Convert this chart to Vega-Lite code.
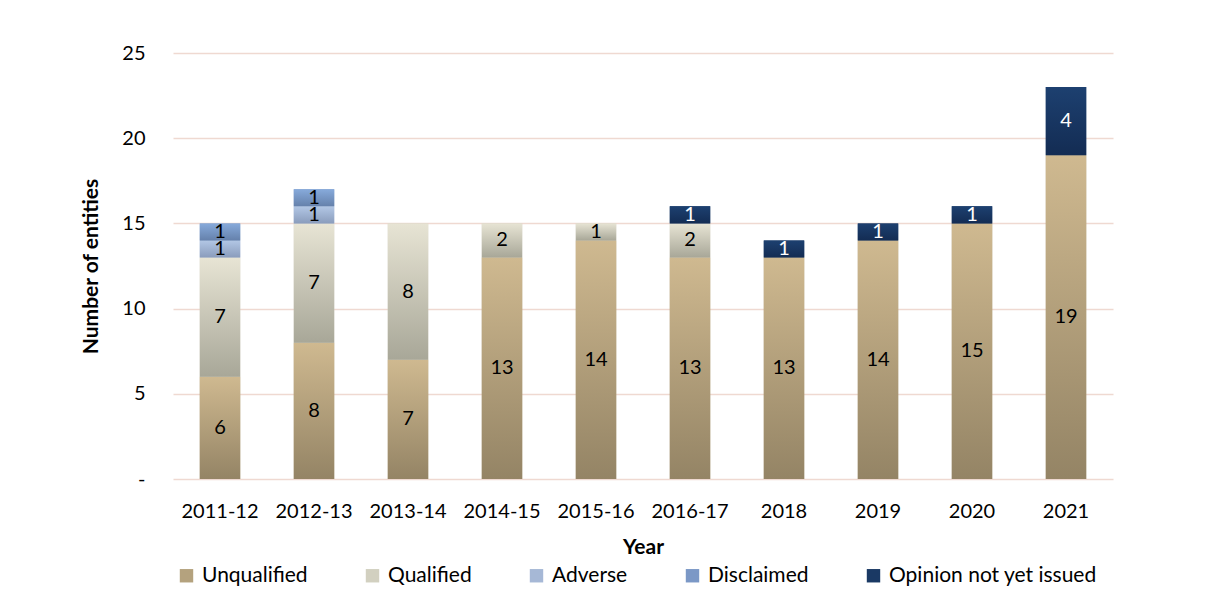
{
  "$schema": "https://vega.github.io/schema/vega-lite/v6.json",
  "autosize": "none",
  "width": 940,
  "height": 426,
  "padding": {"left": 173, "top": 53, "right": 109, "bottom": 132},
  "background": "white",
  "config": {
    "view": {"stroke": null},
    "font": "Lato",
    "axis": {"labelFont": "Lato", "titleFont": "Lato", "labelColor": "#000000", "titleColor": "#000000"}
  },
  "data": {
    "values": [
      {"year": "2011-12", "status": "Unqualified", "count": 6},
      {"year": "2011-12", "status": "Qualified", "count": 7},
      {"year": "2011-12", "status": "Adverse", "count": 1},
      {"year": "2011-12", "status": "Disclaimed", "count": 1},
      {"year": "2012-13", "status": "Unqualified", "count": 8},
      {"year": "2012-13", "status": "Qualified", "count": 7},
      {"year": "2012-13", "status": "Adverse", "count": 1},
      {"year": "2012-13", "status": "Disclaimed", "count": 1},
      {"year": "2013-14", "status": "Unqualified", "count": 7},
      {"year": "2013-14", "status": "Qualified", "count": 8},
      {"year": "2014-15", "status": "Unqualified", "count": 13},
      {"year": "2014-15", "status": "Qualified", "count": 2},
      {"year": "2015-16", "status": "Unqualified", "count": 14},
      {"year": "2015-16", "status": "Qualified", "count": 1},
      {"year": "2016-17", "status": "Unqualified", "count": 13},
      {"year": "2016-17", "status": "Qualified", "count": 2},
      {"year": "2016-17", "status": "Opinion not yet issued", "count": 1},
      {"year": "2018", "status": "Unqualified", "count": 13},
      {"year": "2018", "status": "Opinion not yet issued", "count": 1},
      {"year": "2019", "status": "Unqualified", "count": 14},
      {"year": "2019", "status": "Opinion not yet issued", "count": 1},
      {"year": "2020", "status": "Unqualified", "count": 15},
      {"year": "2020", "status": "Opinion not yet issued", "count": 1},
      {"year": "2021", "status": "Unqualified", "count": 19},
      {"year": "2021", "status": "Opinion not yet issued", "count": 4}
    ]
  },
  "transform": [
    {"calculate": "indexof(['Unqualified','Qualified','Adverse','Disclaimed','Opinion not yet issued'], datum.status)", "as": "ord"},
    {"stack": "count", "groupby": ["year"], "sort": [{"field": "ord", "order": "ascending"}], "as": ["y0", "y1"]},
    {"calculate": "(datum.y0 + datum.y1) / 2", "as": "mid"}
  ],
  "encoding": {
    "x": {
      "field": "year", "type": "nominal",
      "sort": ["2011-12","2012-13","2013-14","2014-15","2015-16","2016-17","2018","2019","2020","2021"],
      "scale": {"paddingInner": 0.57, "paddingOuter": 0.285},
      "axis": {"title": "Year", "labelAngle": 0, "labelFontSize": 20, "titleFontSize": 21, "titleFontWeight": "bold", "ticks": false, "domain": false, "labelPadding": 22, "titlePadding": 15}
    }
  },
  "layer": [
    {
      "mark": {"type": "bar"},
      "encoding": {
        "y": {
          "field": "y1", "type": "quantitative",
          "scale": {"domain": [0, 25], "nice": false},
          "axis": {"title": "Number of entities", "values": [0,5,10,15,20,25], "labelExpr": "datum.value == 0 ? '-' : datum.label", "labelFontSize": 20, "titleFontSize": 21, "titleFontWeight": "bold", "ticks": false, "domain": false, "labelPadding": 28, "titlePadding": 20, "gridColor": "#efd9d1", "gridWidth": 1.5}
        },
        "y2": {"field": "y0"},
        "color": {
          "field": "status", "type": "nominal",
          "scale": {
            "domain": ["Unqualified","Qualified","Adverse","Disclaimed","Opinion not yet issued"],
            "range": ["#b4a27e","#d2d0c0","#a6b8d6","#7b98c6","#1a3964"]
          },
          "legend": {
            "title": null, "orient": "none", "direction": "horizontal",
            "legendX": 3, "legendY": 512,
            "symbolType": "square", "symbolSize": 180, "symbolStrokeWidth": 0,
            "labelFontSize": 21, "labelFont": "Lato", "labelColor": "#000000", "labelLimit": 0,
            "columnPadding": 54, "labelOffset": 5
          }
        }
      }
    },
    {
      "transform": [{"filter": "datum.status == 'Unqualified'"}],
      "mark": {"type": "bar", "fill": {"gradient": "linear", "x1": 0, "y1": 0, "x2": 0, "y2": 1, "stops": [{"offset": 0, "color": "#cfb990"}, {"offset": 1, "color": "#948465"}]}},
      "encoding": {"y": {"field": "y1", "type": "quantitative"}, "y2": {"field": "y0"}}
    },
    {
      "transform": [{"filter": "datum.status == 'Qualified'"}],
      "mark": {"type": "bar", "fill": {"gradient": "linear", "x1": 0, "y1": 0, "x2": 0, "y2": 1, "stops": [{"offset": 0, "color": "#e7e4d4"}, {"offset": 1, "color": "#a8a798"}]}},
      "encoding": {"y": {"field": "y1", "type": "quantitative"}, "y2": {"field": "y0"}}
    },
    {
      "transform": [{"filter": "datum.status == 'Adverse'"}],
      "mark": {"type": "bar", "fill": {"gradient": "linear", "x1": 0, "y1": 0, "x2": 0, "y2": 1, "stops": [{"offset": 0, "color": "#b2c7e5"}, {"offset": 1, "color": "#8a9cbc"}]}},
      "encoding": {"y": {"field": "y1", "type": "quantitative"}, "y2": {"field": "y0"}}
    },
    {
      "transform": [{"filter": "datum.status == 'Disclaimed'"}],
      "mark": {"type": "bar", "fill": {"gradient": "linear", "x1": 0, "y1": 0, "x2": 0, "y2": 1, "stops": [{"offset": 0, "color": "#87aadb"}, {"offset": 1, "color": "#6581ab"}]}},
      "encoding": {"y": {"field": "y1", "type": "quantitative"}, "y2": {"field": "y0"}}
    },
    {
      "transform": [{"filter": "datum.status == 'Opinion not yet issued'"}],
      "mark": {"type": "bar", "fill": {"gradient": "linear", "x1": 0, "y1": 0, "x2": 0, "y2": 1, "stops": [{"offset": 0, "color": "#1d4070"}, {"offset": 1, "color": "#132c53"}]}},
      "encoding": {"y": {"field": "y1", "type": "quantitative"}, "y2": {"field": "y0"}}
    },
    {
      "mark": {"type": "text", "fontSize": 20, "font": "Lato", "baseline": "middle", "align": "center"},
      "encoding": {
        "y": {"field": "mid", "type": "quantitative"},
        "text": {"field": "count", "type": "quantitative"},
        "color": {"condition": {"test": "datum.status == 'Opinion not yet issued'", "value": "#ffffff"}, "value": "#000000"}
      }
    }
  ]
}
